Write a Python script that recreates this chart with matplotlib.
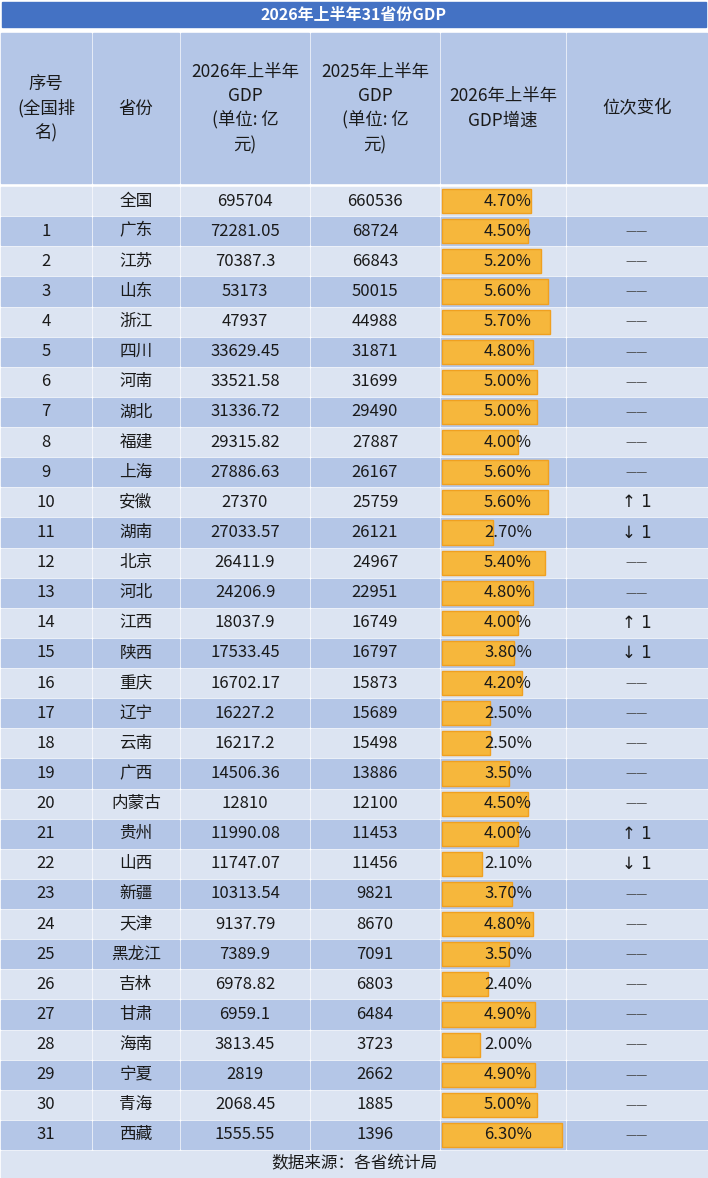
import matplotlib.pyplot as plt
from matplotlib.patches import Rectangle
import numpy as np

plt.rcParams['font.family'] = ['Noto Sans CJK SC', 'DejaVu Sans']

ranks = [""] + [str(i) for i in range(1, 32)]
provinces = ["全国", "广东", "江苏", "山东", "浙江", "四川", "河南", "湖北", "福建", "上海",
             "安徽", "湖南", "北京", "河北", "江西", "陕西", "重庆", "辽宁", "云南", "广西",
             "内蒙古", "贵州", "山西", "新疆", "天津", "黑龙江", "吉林", "甘肃", "海南", "宁夏",
             "青海", "西藏"]
gdp_2026 = ["695704", "72281.05", "70387.3", "53173", "47937", "33629.45", "33521.58",
            "31336.72", "29315.82", "27886.63", "27370", "27033.57", "26411.9", "24206.9",
            "18037.9", "17533.45", "16702.17", "16227.2", "16217.2", "14506.36", "12810",
            "11990.08", "11747.07", "10313.54", "9137.79", "7389.9", "6978.82", "6959.1",
            "3813.45", "2819", "2068.45", "1555.55"]
gdp_2025 = ["660536", "68724", "66843", "50015", "44988", "31871", "31699", "29490", "27887",
            "26167", "25759", "26121", "24967", "22951", "16749", "16797", "15873", "15689",
            "15498", "13886", "12100", "11453", "11456", "9821", "8670", "7091", "6803", "6484",
            "3723", "2662", "1885", "1396"]
growth = [4.7, 4.5, 5.2, 5.6, 5.7, 4.8, 5.0, 5.0, 4.0, 5.6, 5.6, 2.7, 5.4, 4.8, 4.0, 3.8,
          4.2, 2.5, 2.5, 3.5, 4.5, 4.0, 2.1, 3.7, 4.8, 3.5, 2.4, 4.9, 2.0, 4.9, 5.0, 6.3]
change = ["", "—", "—", "—", "—", "—", "—", "—", "—", "—", "↑1", "↓1", "—", "—", "↑1", "↓1",
          "—", "—", "—", "—", "—", "↑1", "↓1", "—", "—", "—", "—", "—", "—", "—", "—", "—"]
headers = ["序号\n(全国排\n名)", "省份", "2026年上半年\nGDP\n(单位: 亿\n元)",
           "2025年上半年\nGDP\n(单位: 亿\n元)", "2026年上半年\nGDP增速", "位次变化"]

W, H = 708, 1178
fig = plt.figure(figsize=(W / 100, H / 100), dpi=100)
ax = fig.add_axes([0, 0, 1, 1])
ax.set_xlim(0, W)
ax.set_ylim(H, 0)
ax.axis("off")

cols = [0, 92, 180, 310, 440, 566, 708]
light, dark = "#dce4f2", "#b4c6e7"
txt = "#1a1a1a"

ax.add_patch(Rectangle((0, 0), W, H, color="white"))
# title bar
ax.add_patch(Rectangle((2, 2), W - 4, 25, color="#4472c4"))
ax.text(W / 2, 15, "2026年上半年31省份GDP", color="white", ha="center", va="center",
        fontsize=11.5, fontweight="bold")

# header
top, hb = 33, 184
for i in range(6):
    ax.add_patch(Rectangle((cols[i] + 1, top), cols[i + 1] - cols[i] - 2, hb - top - 1, color=dark))
    ax.text((cols[i] + cols[i + 1]) / 2, (top + hb) / 2, headers[i], ha="center", va="center",
            fontsize=12.5, color=txt, linespacing=1.45)

# rows
n = len(provinces)
rh = (1150 - 186) / n
ys = 186 + rh * np.arange(n)
for r in range(n):
    c = light if r % 2 == 0 else dark
    for i in range(6):
        ax.add_patch(Rectangle((cols[i] + 1, ys[r] + 1), cols[i + 1] - cols[i] - 2, rh - 2, color=c))
    yc = ys[r] + rh / 2
    vals = [ranks[r], provinces[r], gdp_2026[r], gdp_2025[r]]
    for i, v in enumerate(vals):
        ax.text((cols[i] + cols[i + 1]) / 2, yc, v, ha="center", va="center", fontsize=12, color=txt)

# data bars in growth column
scale = 19.0
ax.barh(ys + rh / 2, np.array(growth) * scale, height=rh - 6, left=cols[4] + 2,
        color="#f6b73c", edgecolor="#f0a020", linewidth=1)
for r in range(n):
    yc = ys[r] + rh / 2
    ax.text(cols[4] + 68, yc, f"{growth[r]:.2f}%", ha="center", va="center", fontsize=12, color=txt)
    ch = change[r]
    if ch == "—":
        ax.text((cols[5] + cols[6]) / 2, yc, "——", ha="center", va="center", fontsize=8,
                color="#444444", family=["DejaVu Sans"])
    elif ch:
        ax.text((cols[5] + cols[6]) / 2, yc, ch[0] + " " + ch[1], ha="center", va="center",
                fontsize=12, color=txt, family=["DejaVu Sans"])

# footer
ax.add_patch(Rectangle((1, 1151), W - 2, 26, color=light))
ax.text(W / 2, 1164, "数据来源：各省统计局", ha="center", va="center", fontsize=12, color=txt)

fig.savefig("out.png", dpi=100)
